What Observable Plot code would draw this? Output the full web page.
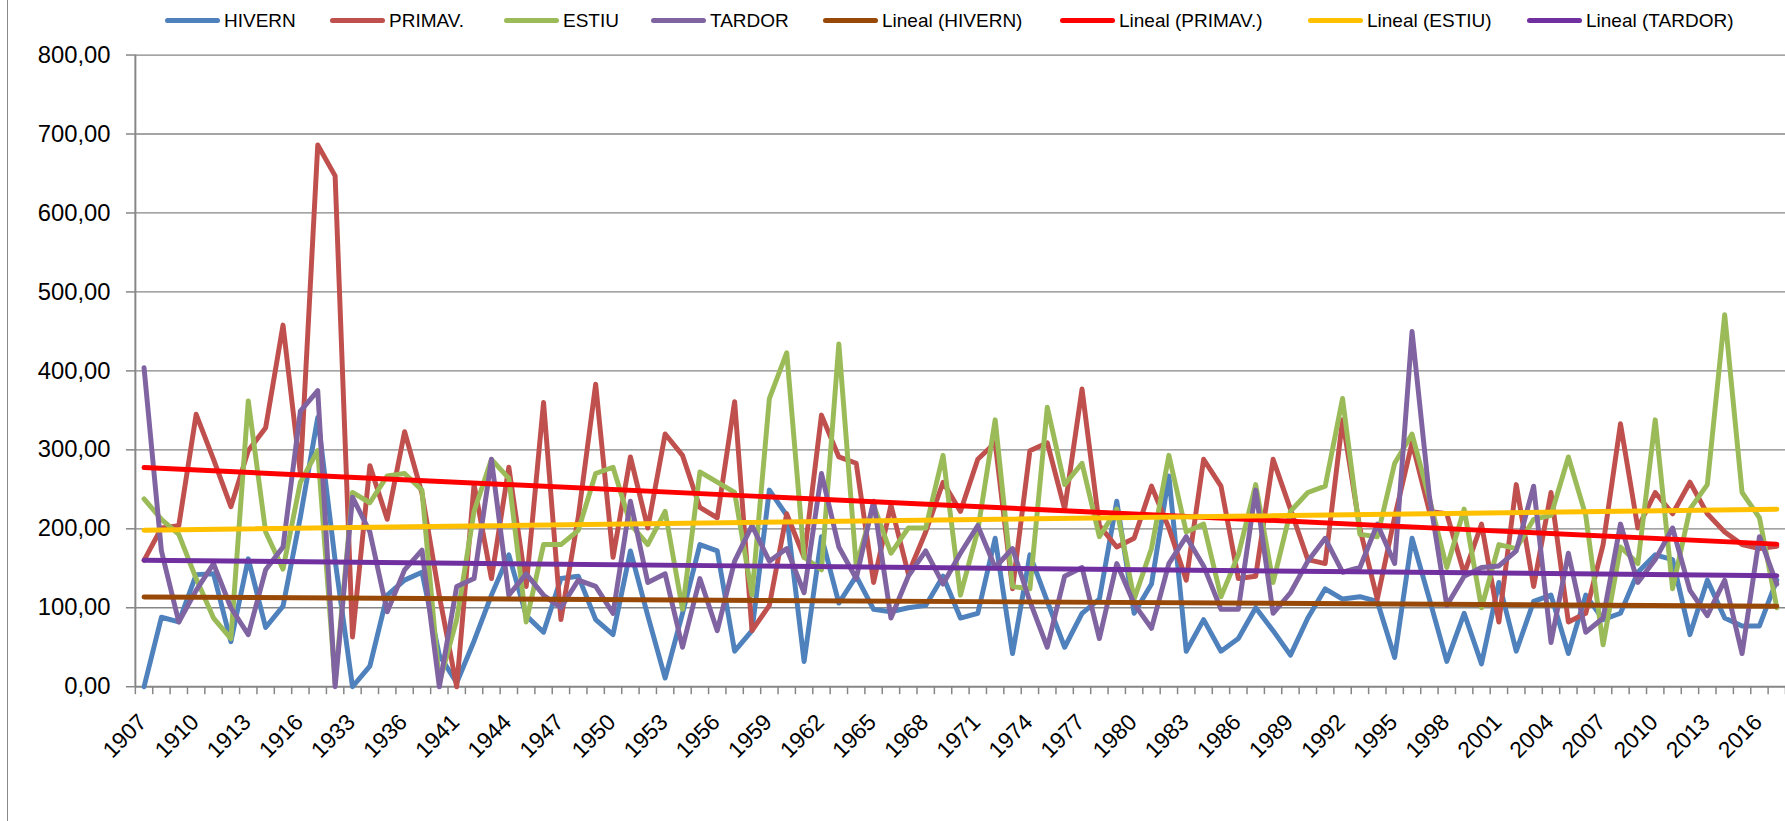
<!DOCTYPE html>
<html><head><meta charset="utf-8">
<script src="https://cdn.jsdelivr.net/npm/d3@7"></script>
<script src="https://cdn.jsdelivr.net/npm/@observablehq/plot@0.6"></script>
<style>
html,body{margin:0;padding:0;background:#fff;overflow:hidden;width:1785px;height:821px;}
#wrap{position:relative;width:1785px;height:821px;overflow:hidden;font-family:"Liberation Sans",Arial,sans-serif;}
#chart{position:absolute;left:0;top:0;}
#border{position:absolute;left:7px;top:0;width:1.3px;height:821px;background:#8a8a8a;}
.lg{position:absolute;top:0;height:41px;display:flex;align-items:center;font-size:19px;color:#000;white-space:nowrap;}
.sw{display:inline-block;width:55px;height:5px;border-radius:3px;margin-right:4px;}
</style></head><body>
<div id="wrap"><div id="border"></div><div id="chart"></div><div id="legend"></div></div>
<script>
const years = ["1907","1908","1909","1910","1911","1912","1913","1914","1915","1916","1917","1918","1933","1934","1935","1936","1939","1940"]
  .concat(d3.range(1941, 2018).map(String));

const seriesNames = ["HIVERN", "PRIMAV.", "ESTIU", "TARDOR"];
const hivern = [0,88,82,142,143,57,162,75,102,215,341,160,0,26,116,135,145,40,5,58,116,167,90,69,137,140,85,66,172,90,11,93,180,172,45,71,249,217,32,190,106,140,98,95,100,103,140,87,93,188,42,167,108,50,93,111,235,93,130,267,45,85,45,61,100,71,40,87,124,111,114,108,37,188,111,32,93,29,132,45,108,116,42,116,85,93,145,167,161,66,135,87,77,77,135];
const primav = [160,201,204,345,288,228,299,328,458,270,686,647,63,280,212,323,245,115,0,256,137,278,127,360,85,215,383,164,291,201,320,293,227,214,361,71,103,219,164,344,291,283,132,230,143,196,259,222,288,309,124,299,309,225,377,204,177,188,254,201,135,288,254,137,140,288,225,161,156,338,200,111,215,309,222,219,143,206,82,256,127,246,82,93,180,333,201,246,219,259,219,196,180,175,178];
const estiu = [238,212,193,137,87,61,362,196,149,259,299,5,246,233,267,270,249,5,85,222,288,264,82,180,180,198,270,278,206,180,222,98,272,259,246,116,365,423,164,148,434,153,230,169,201,201,293,116,198,338,127,124,354,256,283,190,225,111,175,293,196,206,114,167,256,132,222,246,254,365,193,190,283,320,238,151,225,100,180,175,212,217,291,217,53,177,156,338,124,225,256,471,246,214,100];
const tardor = [404,172,82,122,156,100,66,148,177,349,375,0,240,196,95,148,173,0,127,137,288,116,143,116,100,135,127,93,235,132,143,50,137,71,159,204,159,175,119,270,177,137,235,87,140,172,130,169,204,151,175,108,50,140,151,61,156,105,74,156,190,153,98,98,249,93,119,159,188,145,151,206,156,450,241,103,140,151,153,172,254,56,169,69,87,206,132,161,201,122,90,135,42,190,130];

const trendNames = ["Lineal (HIVERN)", "Lineal (PRIMAV.)", "Lineal (ESTIU)", "Lineal (TARDOR)"];
const trendStart = [113.7, 277.6, 198.3, 160.2];
const trendEnd = [102.0, 180.6, 224.8, 140.6];

const seriesColors = ["#4F81BD", "#C0504D", "#9BBB59", "#8064A2"];
const trendColors = ["#984807", "#FF0000", "#FFC000", "#7030A0"];

const yTicks = [0, 100, 200, 300, 400, 500, 600, 700, 800];
const labelIdx = d3.range(0, years.length, 3);

// ---- build tables ----
const seriesValues = [hivern, primav, estiu, tardor];
const rows = [];
seriesNames.forEach((n, k) => seriesValues[k].forEach((v, i) => rows.push({i, v, s: n})));
const last = years.length - 1;
const trendRows = [];
trendNames.forEach((n, k) => {
  trendRows.push({i: 0, v: trendStart[k], s: n});
  trendRows.push({i: last, v: trendEnd[k], s: n});
});
const bounds = d3.range(0, years.length + 1).map(k => k - 0.5);
const gray = "#868686";

const chart = Plot.plot({
  width: 1800, height: 821,
  marginLeft: 136, marginRight: 0, marginTop: 55, marginBottom: 129,
  x: {type: "linear", domain: [-0.5, years.length - 0.5], axis: null},
  y: {domain: [0, 800], axis: null},
  color: {domain: seriesNames.concat(trendNames), range: seriesColors.concat(trendColors)},
  style: {fontFamily: '"Liberation Sans", Arial, sans-serif', background: "transparent", overflow: "visible"},
  marks: [
    Plot.ruleY(yTicks.filter(t => t > 0), {stroke: gray, strokeWidth: 1.3}),
    Plot.ruleY([0], {stroke: gray, strokeWidth: 2}),
    Plot.ruleX([-0.5], {y1: 0, y2: 800, stroke: gray, strokeWidth: 2}),
    Plot.axisX({ticks: bounds, tickSize: 8, tickFormat: () => "", stroke: gray, strokeWidth: 1.5, label: null}),
    Plot.axisY({ticks: yTicks, tickSize: 9, tickPadding: 16, stroke: gray, strokeWidth: 1.5,
      tickFormat: d => d.toFixed(2).replace(".", ","), fontSize: 24, fill: "#000", label: null}),
    Plot.text(labelIdx, {x: d => d, frameAnchor: "bottom", text: d => years[d], rotate: -45,
      textAnchor: "end", lineAnchor: "bottom", dx: 4, dy: 37, fontSize: 23, fill: "#000"}),
    Plot.line(rows, {x: "i", y: "v", z: "s", stroke: "s", strokeWidth: 5,
      strokeLinejoin: "round", strokeLinecap: "round"}),
    Plot.line(trendRows, {x: "i", y: "v", z: "s", stroke: "s", strokeWidth: 5, strokeLinecap: "round"})
  ]
});
document.getElementById("chart").appendChild(chart);

// ---- legend ----
const legendNames = seriesNames.concat(trendNames);
const legendColors = seriesColors.concat(trendColors);
const legendLeft = [165, 330, 504, 651, 823, 1060, 1308, 1527];
const lg = document.getElementById("legend");
legendNames.forEach((n, k) => {
  const d = document.createElement("div");
  d.className = "lg";
  d.style.left = legendLeft[k] + "px";
  const sw = document.createElement("span");
  sw.className = "sw";
  sw.style.background = legendColors[k];
  d.appendChild(sw);
  d.appendChild(document.createTextNode(n));
  lg.appendChild(d);
});
</script>
</body></html>
